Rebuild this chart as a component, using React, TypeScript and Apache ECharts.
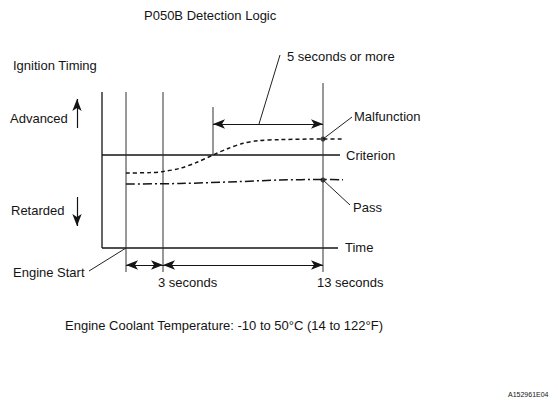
import React, { useEffect, useRef } from "react";
import * as echarts from "echarts";

// Diagram sheet units: 558 x 407, y grows downward
const SHEET_W = 558;
const SHEET_H = 407;

type Pt = [number, number];
type Seg = [Pt, Pt];

const axisSegments: Seg[] = [
  [[102, 92], [102, 248]], // Ignition timing axis
  [[102, 248], [338, 248]], // Time axis
  [[102, 155], [340, 155]], // Criterion
];
const guideSegments: Seg[] = [
  [[126, 92], [126, 272]], // Engine start
  [[163, 92], [163, 272]], // 3 seconds
  [[323, 83], [323, 272]], // 13 seconds
  [[213, 107], [213, 155]], // malfunction crosses criterion
];
const leaderSegments: Seg[] = [
  [[259, 124], [280, 55]],
  [[323, 139], [352, 117]],
  [[323, 180], [350, 205]],
  [[126, 248], [89, 271]],
];
const doubleArrows: Seg[] = [
  [[213, 124], [323, 124]],
  [[126, 265], [163, 265]],
  [[163, 265], [323, 265]],
];
const singleArrows: Seg[] = [
  [[77, 128], [77, 99]],
  [[77, 197], [77, 226]],
];

const malfunctionCurve: Pt[] = [
  [126, 173], [150, 172.6], [163, 171.6], [180, 168.3], [197, 162.3],
  [213, 155], [228, 148.5], [243, 143.3], [258, 140.6], [280, 139.6],
  [323, 139], [343, 139],
];
const passCurve: Pt[] = [
  [126, 184], [180, 183.5], [237, 181.7], [280, 180], [323, 179.5], [343, 179.8],
];
const judgementPoints: Pt[] = [[323, 139], [323, 180]];

const labelTexts = [
  "P050B Detection Logic",
  "Ignition Timing",
  "Advanced",
  "Retarded",
  "5 seconds or more",
  "Malfunction",
  "Criterion",
  "Pass",
  "Time",
  "Engine Start",
  "3 seconds",
  "13 seconds",
  "Engine Coolant Temperature: -10 to 50°C (14 to 122°F)",
];
const labelAnchors: Pt[] = [
  [144, 15], [13, 65], [10, 118], [11, 210], [287, 56], [354, 116],
  [346, 155], [353, 207], [345, 247], [13, 272], [158, 282], [317, 282],
  [65, 325],
];
const figureCode = "A152961E04";

const INK = "#141414";
const FONT = '"Liberation Sans", Arial, Helvetica, sans-serif';

export default function App() {
  const ref = useRef<HTMLDivElement>(null);
  useEffect(() => {
    if (!ref.current) return;
    const chart = echarts.init(ref.current, undefined, { renderer: "svg" });

    const segSeries = (segs: Seg[], name: string, color: string, width: number) =>
      segs.map((s, i) => ({
        name: `${name}${i}`,
        type: "line",
        data: s,
        symbol: "none",
        silent: true,
        clip: false,
        lineStyle: { color, width, type: "solid" },
      }));

    const arrowData = [
      ...doubleArrows.map((s) => [
        { coord: s[0], symbol: "arrow" },
        { coord: s[1], symbol: "arrow" },
      ]),
      ...singleArrows.map((s) => [
        { coord: s[0], symbol: "none" },
        { coord: s[1], symbol: "arrow" },
      ]),
    ];

    const option: any = {
      animation: false,
      backgroundColor: "#ffffff",
      grid: { left: 0, right: 0, top: 0, bottom: 0 },
      xAxis: { type: "value", min: 0, max: SHEET_W, show: false },
      yAxis: { type: "value", min: 0, max: SHEET_H, inverse: true, show: false },
      series: [
        ...segSeries(axisSegments, "axis", INK, 1.3),
        ...segSeries(guideSegments, "guide", "#333", 1),
        ...segSeries(leaderSegments, "leader", "#222", 1),
        {
          name: "Malfunction",
          type: "line",
          data: malfunctionCurve,
          smooth: 0.3,
          symbol: "none",
          clip: false,
          lineStyle: { color: INK, width: 1.5, type: [4, 3] },
        },
        {
          name: "Pass",
          type: "line",
          data: passCurve,
          smooth: 0.3,
          symbol: "none",
          clip: false,
          lineStyle: { color: INK, width: 1.5, type: [9, 3, 2, 3] },
        },
        {
          name: "points",
          type: "scatter",
          data: judgementPoints,
          symbolSize: 5,
          clip: false,
          itemStyle: { color: INK },
        },
        {
          name: "arrows",
          type: "line",
          data: [],
          symbol: "none",
          markLine: {
            silent: true,
            animation: false,
            symbolSize: [7, 12],
            label: { show: false },
            lineStyle: { color: INK, width: 1.2, type: "solid" },
            emphasis: { disabled: true },
            data: arrowData,
          },
        },
      ],
      graphic: [
        ...labelTexts.map((t, i) => ({
          type: "text",
          x: labelAnchors[i][0],
          y: labelAnchors[i][1],
          silent: true,
          style: {
            text: t,
            fill: INK,
            fontSize: 13,
            fontFamily: FONT,
            verticalAlign: "middle",
            align: "left",
          },
        })),
        {
          type: "text",
          x: 508,
          y: 394,
          silent: true,
          style: {
            text: figureCode,
            fill: INK,
            fontSize: 7,
            fontFamily: FONT,
            verticalAlign: "middle",
            align: "left",
          },
        },
      ],
    };
    chart.setOption(option);
    return () => chart.dispose();
  }, []);

  return (
    <div
      ref={ref}
      style={{
        position: "fixed",
        left: 0,
        top: 0,
        width: SHEET_W,
        height: SHEET_H,
        background: "#fff",
      }}
    />
  );
}
